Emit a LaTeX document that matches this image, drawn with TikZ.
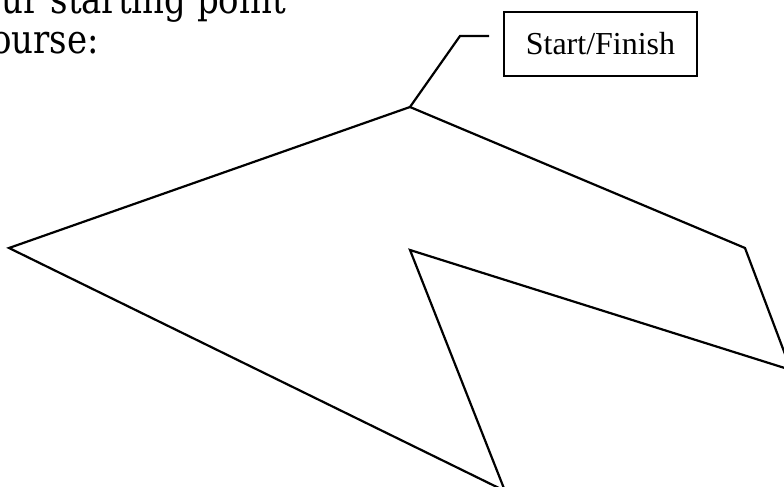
\documentclass[tikz,border=0pt]{standalone}
\usepackage{fontspec}
\setmainfont{Liberation Serif}
\newfontfamily\bookfont[FakeStretch=0.85]{DejaVu Serif}

\begin{document}
\begin{tikzpicture}[x=0.5pt,y=-0.5pt,line width=1.1pt,
    callout/.style={draw,line width=0.6pt,minimum width=96.5pt,minimum height=32pt,inner sep=0pt,font=\fontsize{16}{19}\selectfont},
    caption/.style={anchor=base east,inner sep=0pt,font=\bookfont\fontsize{20}{20}\selectfont}]
    \useasboundingbox (0,0) rectangle (784,487);
    \clip (0,0) rectangle (784,487);
    \node[caption] (line1) at (287,13) {ur starting point};
    \node[caption] (line2) at (100,54) {ourse:};
    % the course
    \coordinate (top) at (410,107);
    \coordinate (left) at (9,248);
    \coordinate (bottom) at (505,491);
    \coordinate (inner) at (410,250);
    \coordinate (outer) at (791,370);
    \coordinate (corner) at (745,248);
    \draw (top) -- (left) -- (bottom) -- (inner) -- (outer) -- (corner) -- cycle;
    % label
    \node[callout] (start) at (600.5,44) {Start/Finish};
    \coordinate (bend) at (460,36);
    \coordinate (tail) at (489,36);
    \draw (top) -- (bend) -- (tail);
\end{tikzpicture}
\end{document}
